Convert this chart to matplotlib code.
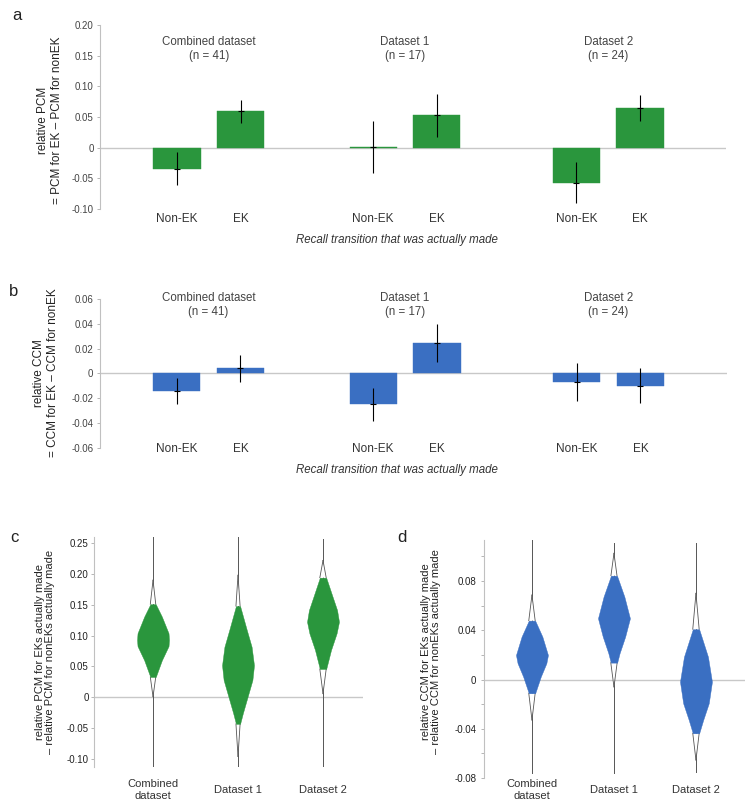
import matplotlib
matplotlib.use("Agg")
import matplotlib.pyplot as plt
import matplotlib.transforms as mtransforms
import numpy as np

plt.rcParams['font.family'] = ['Liberation Sans', 'DejaVu Sans']

# ---------------- data ----------------
groups = ["Combined dataset", "Dataset 1", "Dataset 2"]
group_n = [41, 17, 24]
transitions = ["Non-EK", "EK"]

# bar values, order: (Combined NonEK, Combined EK, D1 NonEK, D1 EK, D2 NonEK, D2 EK)
pcm_mean = [-0.034, 0.059, 0.001, 0.053, -0.057, 0.065]
pcm_err = [0.027, 0.019, 0.043, 0.035, 0.034, 0.021]
ccm_mean = [-0.0143, 0.0042, -0.025, 0.0245, -0.0071, -0.0101]
ccm_err = [0.0104, 0.0109, 0.0133, 0.0150, 0.0152, 0.0141]

violin_labels = ["Combined\ndataset", "Dataset 1", "Dataset 2"]

# violin density profiles (y value, relative density)
pcm_violin_y = [
    [0.190, 0.151, 0.131, 0.104, 0.093, 0.083, 0.060, 0.033, 0.001],
    [0.198, 0.148, 0.109, 0.082, 0.052, 0.028, 0.001, -0.026, -0.043, -0.096],
    [0.222, 0.194, 0.163, 0.1415, 0.1225, 0.1037, 0.0767, 0.046, 0.006],
]
pcm_violin_d = [
    [0, 0.17, 0.55, 0.97, 1.0, 0.97, 0.55, 0.17, 0],
    [0, 0.13, 0.55, 0.85, 1.0, 0.90, 0.60, 0.30, 0.13, 0],
    [0, 0.20, 0.60, 0.88, 1.0, 0.85, 0.50, 0.20, 0],
]
pcm_interval = [(0.033, 0.151), (-0.043, 0.148), (0.046, 0.194)]
pcm_range = [(-0.113, 0.26), (-0.113, 0.26), (-0.113, 0.256)]

ccm_violin_y = [
    [0.0686, 0.0478, 0.0348, 0.0199, 0.0132, 0.0023, -0.0112, -0.0329],
    [0.1025, 0.0843, 0.0673, 0.0497, 0.0348, 0.0213, 0.0137, -0.006],
    [0.070, 0.0408, 0.0185, -0.0018, -0.0193, -0.0329, -0.0437, -0.0654],
]
ccm_violin_d = [
    [0, 0.20, 0.65, 1.0, 0.90, 0.55, 0.20, 0],
    [0, 0.19, 0.65, 1.0, 0.70, 0.35, 0.20, 0],
    [0, 0.20, 0.75, 1.0, 0.80, 0.45, 0.20, 0],
]
ccm_interval = [(-0.0112, 0.0478), (0.0137, 0.0843), (-0.0437, 0.0408)]
ccm_range = [(-0.076, 0.1135), (-0.076, 0.111), (-0.075, 0.111)]

# ---------------- style ----------------
GREEN = '#2a963d'
BLUE = '#3a6fc2'
SPINE = '#c0c0c0'
ZERO = '#c8c8c8'
bar_pos = [0, 1, 3.08, 4.08, 6.27, 7.27]

W, H = 754.0, 809.0
fig = plt.figure(figsize=(W / 100, H / 100), dpi=100)


def px(x, y):
    return x / W, 1 - y / H


def style_axis(ax, pad):
    for s in ['top', 'right', 'bottom']:
        ax.spines[s].set_visible(False)
    ax.spines['left'].set_color(SPINE)
    ax.spines['left'].set_linewidth(0.8)
    ax.tick_params(axis='y', direction='out', length=2.5, width=0.6,
                   color='#aaaaaa', pad=pad)
    ax.tick_params(axis='x', length=0)
    ax.set_xticks([])


def bar_panel(rect, means, errs, color, ylim, yticks, yticklabels,
              title_y, ylabel, ylab_xy, ylab_ls, letter, cat_off, xlab_off,
              letter_xy):
    ax = fig.add_axes(rect)
    style_axis(ax, 2.0)
    ax.axhline(0, color=ZERO, lw=1.0, zorder=1)
    ax.bar(bar_pos, means, width=0.74, color=color, zorder=2,
           edgecolor=color, linewidth=0.3)
    ax.errorbar(bar_pos, means, yerr=errs, fmt='none', ecolor='black',
                elinewidth=0.8, capsize=0, zorder=3)
    ax.plot(bar_pos, means, ls='none', marker='_', ms=4, mew=0.8,
            color='black', zorder=4)
    ax.set_xlim(-1.21, 8.62)
    ax.set_ylim(*ylim)
    ax.set_yticks(yticks)
    ax.set_yticklabels(yticklabels, fontsize=7, color='#444444')
    trans = mtransforms.blended_transform_factory(ax.transData, ax.transAxes)
    for i, g in enumerate(groups):
        cx = (bar_pos[2 * i] + bar_pos[2 * i + 1]) / 2
        ax.text(cx, title_y[0], g, ha='center', va='center', fontsize=8.3,
                color='#444444')
        ax.text(cx, title_y[1], f"(n = {group_n[i]})", ha='center',
                va='center', fontsize=8.3, color='#444444')
        for j, t in enumerate(transitions):
            ax.annotate(t, xy=(bar_pos[2 * i + j], 0),
                        xycoords=trans, xytext=(0, cat_off),
                        textcoords='offset points', ha='center', va='center',
                        fontsize=8.5, color='#333333')
    ax.annotate("Recall transition that was actually made", xy=(0.475, 0),
                xycoords='axes fraction', xytext=(0, xlab_off),
                textcoords='offset points', ha='center', va='center',
                fontsize=8.3, style='italic', color='#333333')
    fig.text(*px(*ylab_xy), ylabel, rotation=90, ha='center', va='center',
             fontsize=8.5, color='#222222', linespacing=ylab_ls,
             multialignment='center')
    fig.text(*px(*letter_xy), letter, fontsize=12, color='#222222',
             ha='left', va='center')
    return ax


bar_panel([100 / W, 1 - 209 / H, 626 / W, 184 / H], pcm_mean, pcm_err, GREEN,
          (-0.10, 0.20),
          [0.20, 0.15, 0.10, 0.05, 0, -0.05, -0.10],
          ["0.20", "0.15", "0.10", "0.05", "0", "-0.05", "-0.10"],
          (0.173, 0.150),
          "relative PCM\n= PCM for EK \u2013 PCM for nonEK", (50, 120), 1.3,
          "a", -7.2, -22.3, (12, 15))

bar_panel([99.5 / W, 1 - 447.6 / H, 627 / W, 148.6 / H], ccm_mean, ccm_err, BLUE,
          (-0.06, 0.06),
          [0.06, 0.04, 0.02, 0, -0.02, -0.04, -0.06],
          ["0.06", "0.04", "0.02", "0", "-0.02", "-0.04", "-0.06"],
          (0.0605, 0.0492),
          "relative CCM\n= CCM for EK \u2013 CCM for nonEK", (46, 373), 1.15,
          "b", -1.0, -16.1, (9, 292))


def violin_panel(rect, ys, ds, intervals, ranges, color, xlim, ylim,
                 yticks, yticklabels, ylabel, ylab_xy, letter, letter_xy,
                 half_w, lab_off, tick_pad):
    ax = fig.add_axes(rect)
    style_axis(ax, tick_pad)
    ax.axhline(0, color=ZERO, lw=1.0, zorder=1)
    pos = np.arange(1, len(ys) + 1)
    for p, y, d, (lo, hi), (rmin, rmax) in zip(pos, ys, ds, intervals, ranges):
        y = np.asarray(y, float)
        d = np.asarray(d, float) * half_w
        ax.plot([p, p], [rmin, rmax], color='#555555', lw=0.7, zorder=2)
        for m in [(y >= hi - 1e-9), (y <= lo + 1e-9)]:
            ax.fill_betweenx(y[m], p - d[m], p + d[m], facecolor='white',
                             edgecolor='none', zorder=3)
            ax.plot(p - d[m], y[m], color='#555555', lw=0.6, zorder=4)
            ax.plot(p + d[m], y[m], color='#555555', lw=0.6, zorder=4)
        mc = (y >= lo - 1e-9) & (y <= hi + 1e-9)
        ax.fill_betweenx(y[mc], p - d[mc], p + d[mc], facecolor=color,
                         edgecolor=color, lw=0.3, zorder=5)
    ax.set_xlim(*xlim)
    ax.set_ylim(*ylim)
    ax.set_yticks(yticks)
    ax.set_yticklabels(yticklabels, fontsize=7, color='#222222')
    trans = mtransforms.blended_transform_factory(ax.transData, ax.transAxes)
    for p, lab in zip(pos, violin_labels):
        ax.annotate(lab, xy=(p, 0), xycoords=trans, xytext=(0, lab_off),
                    textcoords='offset points', ha='center', va='center',
                    fontsize=8, color='#333333', linespacing=1.15)
    fig.text(*px(*ylab_xy), ylabel, rotation=90, ha='center', va='center',
             fontsize=8, color='#222222', linespacing=1.1,
             multialignment='center')
    fig.text(*px(*letter_xy), letter, fontsize=12, color='#222222',
             ha='left', va='center')
    return ax


violin_panel([94.3 / W, 1 - 767 / H, 268.4 / W, 230 / H], pcm_violin_y,
             pcm_violin_d, pcm_interval, pcm_range, GREEN,
             (0.309, 3.467), (-0.113, 0.26),
             [0.25, 0.20, 0.15, 0.10, 0.05, 0, -0.05, -0.10],
             ["0.25", "0.20", "0.15", "0.10", "0.05", "0", "-0.05", "-0.10"],
             "relative PCM for EKs actually made\n\u2013 relative PCM for nonEKs actually made",
             (45, 652), "c", (10, 538), 0.188, -16.6, 1.5)

ccm_ticks = [0.10, 0.08, 0.06, 0.04, 0.02, 0, -0.02, -0.04, -0.06, -0.08]
ccm_ticklabels = ["", "0.08", "", "0.04", "", "0", "", "-0.04", "", "-0.08"]
violin_panel([484 / W, 1 - 778 / H, 261 / W, 238 / H], ccm_violin_y,
             ccm_violin_d, ccm_interval, ccm_range, BLUE,
             (0.415, 3.598), (-0.08, 0.1133),
             ccm_ticks, ccm_ticklabels,
             "relative CCM for EKs actually made\n\u2013 relative CCM for nonEKs actually made",
             (431, 652), "d", (397, 537), 0.195, -8.6, 3.0)

fig.savefig("out.png", dpi=100)
